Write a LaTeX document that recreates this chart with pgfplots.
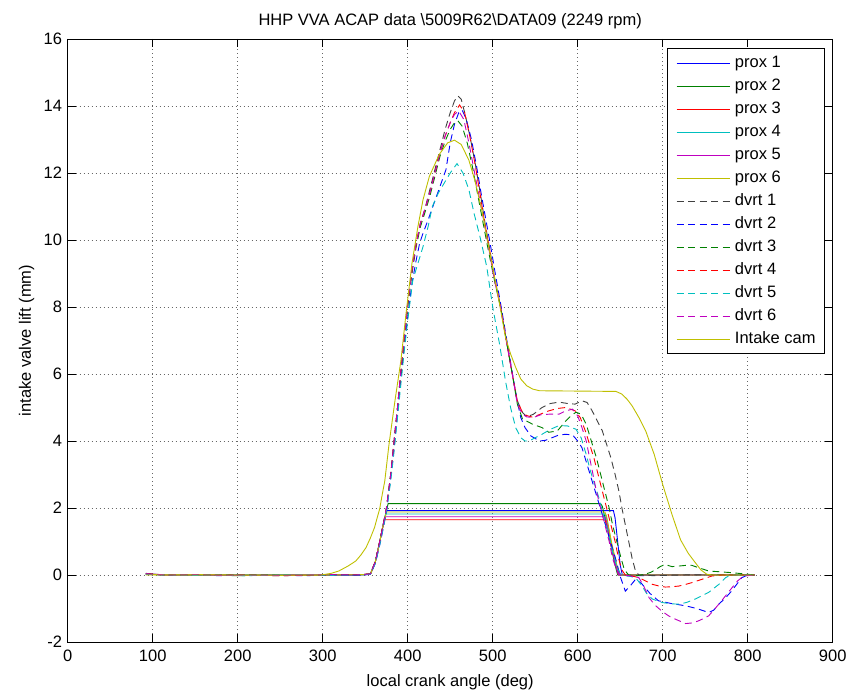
\documentclass[border=0pt]{standalone}
\usepackage{fontspec}
\setmainfont{Liberation Sans}
\usepackage{pgfplots}
\pgfplotsset{compat=1.18}
\usetikzlibrary{calc}
\definecolor{mb}{rgb}{0,0,1}
\definecolor{mg}{rgb}{0,0.5,0}
\definecolor{mr}{rgb}{1,0,0}
\definecolor{mc}{rgb}{0,0.75,0.75}
\definecolor{mm}{rgb}{0.75,0,0.75}
\definecolor{my}{rgb}{0.75,0.75,0}
\definecolor{mk}{rgb}{0.25,0.25,0.25}
\newcommand{\ff}{\fontsize{16.5}{19.8}\selectfont}
\begin{document}
\begin{tikzpicture}
\begin{axis}[name=ax, scale only axis, width=765pt, height=603pt,
  xmin=0, xmax=900, ymin=-2, ymax=16,
  xtick={0,100,...,900}, ytick={-2,0,...,16},
  /pgf/number format/assume math mode=true,
  font=\ff,
  tick label style={font=\ff},
  xticklabel style={anchor=base, yshift=-19pt, inner sep=0pt},
  yticklabel style={anchor=east, xshift=-5.5pt, inner sep=0pt},
  tick pos=both, tick align=inside, major tick length=8pt,
  every tick/.style={black, line width=0.8pt},
  axis line style={line width=0.8pt},
  grid=major,
  major grid style={black!60, line width=0.8pt, dash pattern=on 1pt off 3pt},
  xlabel={local crank angle (deg)},
  xlabel style={at={(axis description cs:0.5,-0.073)}, anchor=base, font=\ff},
  ylabel={intake valve lift (mm)},
  ylabel style={at={(axis description cs:-0.048,0.5)}, anchor=base, rotate=0, font=\ff},
  every axis plot/.append style={line width=0.9pt},
  legend image code/.code={\draw[#1] plot coordinates {(0pt,0pt) (53pt,0pt)};},
  legend cell align=left,
  legend style={at={(axis description cs:0.990,0.9846)}, anchor=north east,
    draw=black, line width=0.8pt, fill=white, font=\ff,
    inner xsep=9pt, inner ysep=6.75pt, row sep=7.5pt,
    nodes={inner sep=0pt, text height=12pt, text depth=3.5pt},
    /tikz/every odd column/.append style={column sep=5pt}},
  dvrt/.style={dash pattern=on 7pt off 4.5pt},
]
% prox 1
\addplot[color=mb] coordinates {(92,0.03) (120,0) (160,-0.01) (200,0.01) (250,-0.01) (300,0) (340,0.01) (356,0.02) (362,0.4) (368,1.1) (372,1.6) (375.5,1.92) (642,1.92) (644,1.7) (647,1.0) (650,0.3) (652.5,0) (660,-0.03) (700,0) (760,0.01) (808,0)};
\addlegendentry{prox 1}
% prox 2
\addplot[color=mg] coordinates {(92,0.02) (120,0.01) (160,0) (200,-0.02) (250,0) (300,0.01) (340,0) (356,0.02) (362,0.4) (368,1.1) (372,1.6) (377,2.13) (627,2.13) (629,2.05) (633,1.6) (638,1.0) (643,0.4) (647,0) (680,0.01) (740,0) (808,0)};
\addlegendentry{prox 2}
% prox 3
\addplot[color=mr] coordinates {(92,0.03) (120,0) (160,0.01) (200,-0.01) (250,0) (300,-0.01) (340,0) (356,0.02) (362,0.4) (368,1.1) (372,1.6) (373,1.65) (632,1.65) (634,1.5) (640,0.8) (645,0.3) (648,0) (700,0) (808,0)};
\addlegendentry{prox 3}
% prox 4
\addplot[color=mc] coordinates {(92,0.02) (120,0.01) (160,-0.01) (200,0) (250,0.01) (300,0) (340,-0.01) (356,0.02) (362,0.4) (368,1.1) (372,1.6) (374,1.82) (632,1.82) (634,1.7) (640,0.9) (645,0.3) (649,0) (700,0) (808,0)};
\addlegendentry{prox 4}
% prox 5
\addplot[color=mm] coordinates {(92,0.03) (120,0) (160,0) (200,-0.01) (250,0) (300,0.01) (340,0) (356,0.02) (362,0.4) (368,1.1) (372,1.6) (373.5,1.74) (632,1.74) (634,1.6) (640,0.8) (645,0.25) (648,0) (700,0) (808,0)};
\addlegendentry{prox 5}
% prox 6
\addplot[color=my] coordinates {(92,0.02) (120,0) (160,0.01) (200,0) (250,-0.01) (300,0) (340,0.01) (356,0.02) (362,0.4) (368,1.1) (372,1.6) (375,1.88) (632,1.88) (634,1.75) (640,0.95) (646,0.3) (650,0) (700,0) (808,0)};
\addlegendentry{prox 6}
% dvrt 1
\addplot[color=mk, dvrt] coordinates {(92,0.05) (100,0.02) (120,0) (150,-0.01) (180,0.01) (210,-0.01) (250,-0.02) (280,-0.01) (310,0) (340,0.01) (356,0.03) (362,0.4) (368,1.1) (372,1.6) (375,2.0) (380,3.0) (384,4.0) (388,5.0) (392,6.1) (396,7.1) (400,8.1) (405,9.1) (410,9.9) (415,10.5) (420,10.9) (426,11.5) (432,12.1) (438,12.7) (444,13.3) (450,13.8) (455,14.15) (459,14.3) (463,14.2) (468,13.7) (474,13.0) (480,12.2) (486,11.3) (491,10.5) (496,9.8) (502,8.9) (510,7.9) (516,7.0) (523,6.0) (529,5.2) (535,4.85) (540,4.72) (548,4.8) (558,5.0) (568,5.12) (578,5.16) (588,5.12) (597,5.1) (605,5.2) (611,5.15) (617,4.9) (623,4.6) (629,4.3) (634,3.9) (639,3.5) (644,3.0) (648.5,2.5) (652,2.0) (656,1.5) (660,1.0) (664,0.5) (668,0.12) (672,0) (690,-0.02) (720,0) (760,0.01) (808,0)};
\addlegendentry{dvrt 1}
% dvrt 2
\addplot[color=mb, dvrt] coordinates {(92,0.03) (100,0.01) (120,-0.01) (150,0) (180,-0.02) (210,0) (250,-0.01) (280,-0.02) (310,0) (340,-0.01) (356,0.02) (362,0.35) (368,1.0) (372,1.5) (375,1.9) (380,2.9) (384,3.8) (388,4.8) (392,5.9) (396,6.8) (400,7.7) (405,8.7) (410,9.4) (414,9.9) (418,10.2) (424,10.6) (431,11.1) (438,11.6) (445,12.1) (450,12.9) (455,13.45) (460,13.8) (464,13.88) (469,13.6) (475,13.0) (481,12.2) (487,11.3) (492,10.6) (497,9.9) (503,9.0) (510,8.0) (516,7.1) (522,6.2) (528,5.3) (533,4.7) (538,4.4) (545,4.15) (555,4.0) (562,4.02) (570,4.1) (578,4.18) (586,4.2) (594,4.18) (600,4.0) (605,3.8) (611,3.3) (617,2.8) (623,2.3) (629,1.8) (635,1.3) (640.6,0.82) (645,0.45) (650.5,-0.08) (656,-0.48) (661,-0.35) (668,-0.13) (675,-0.25) (685,-0.55) (695,-0.77) (710,-0.85) (727,-0.92) (740,-1.0) (754,-1.12) (760,-1.05) (766,-0.87) (774,-0.68) (781,-0.48) (787,-0.28) (793,-0.08) (800,0) (808,0)};
\addlegendentry{dvrt 2}
% dvrt 3
\addplot[color=mg, dvrt] coordinates {(92,0.04) (100,0.02) (120,0.01) (150,0) (180,-0.01) (210,0.01) (250,0) (280,-0.01) (310,0.01) (340,0) (356,0.03) (362,0.4) (368,1.1) (372,1.6) (375,2.0) (380,3.0) (384,4.0) (388,5.0) (392,6.0) (396,7.0) (400,8.0) (405,9.0) (410,9.8) (415,10.4) (420,10.8) (426,11.3) (432,11.9) (438,12.5) (444,12.95) (450,13.3) (455,13.5) (459,13.56) (464,13.4) (470,12.9) (476,12.2) (482,11.4) (488,10.6) (494,9.8) (502,8.8) (510,7.9) (516,7.0) (523,6.0) (529,5.1) (535,4.66) (541,4.58) (547,4.5) (558,4.4) (566,4.26) (576,4.3) (581,4.45) (586,4.6) (592,4.75) (598,4.86) (604,4.8) (610,4.5) (616,4.0) (622,3.5) (627,3.0) (632,2.5) (637,2.0) (641,1.5) (646,1.0) (651,0.5) (655,0.15) (660,0) (670,-0.02) (680,0.03) (686,0.08) (691,0.15) (697,0.25) (703,0.32) (707,0.28) (711,0.25) (720,0.27) (728,0.29) (734,0.29) (742,0.22) (754,0.12) (765,0.1) (781,0.07) (797,0.03) (808,0)};
\addlegendentry{dvrt 3}
% dvrt 4
\addplot[color=mr, dvrt] coordinates {(92,0.04) (110,0.01) (150,-0.01) (200,0) (250,-0.02) (300,0) (340,0.01) (356,0.03) (362,0.4) (368,1.1) (372,1.6) (375,2.0) (380,3.0) (384,4.0) (388,5.0) (392,6.1) (396,7.1) (400,8.1) (405,9.1) (410,9.9) (415,10.5) (420,10.9) (426,11.4) (432,12.0) (438,12.6) (444,13.1) (450,13.5) (455,13.8) (461,14.03) (467,13.8) (473,13.1) (479,12.3) (485,11.4) (490,10.6) (495,9.9) (502,8.9) (510,7.9) (516,7.0) (523,6.0) (529,5.2) (535,4.85) (540,4.76) (547,4.71) (556,4.8) (566,4.9) (576,4.97) (586,5.0) (597,4.9) (603,4.7) (609,4.3) (614,3.9) (619,3.5) (624,3.0) (629,2.5) (634,2.0) (639,1.5) (644,1.0) (648,0.5) (652,0.15) (656,0) (664,-0.03) (672,-0.08) (680,-0.18) (688,-0.28) (696,-0.33) (703,-0.36) (711,-0.35) (719,-0.33) (727,-0.28) (734,-0.23) (746,-0.13) (758,-0.03) (770,0) (790,0) (808,0)};
\addlegendentry{dvrt 4}
% dvrt 5
\addplot[color=mc, dvrt] coordinates {(92,0.03) (100,0.01) (120,0) (150,-0.01) (180,0) (210,-0.02) (250,0) (280,0.01) (310,-0.01) (340,0) (356,0.02) (362,0.35) (368,1.0) (372,1.5) (375,1.9) (380,2.8) (384,3.7) (388,4.7) (392,5.7) (396,6.7) (400,7.6) (406,8.8) (412,9.3) (418,9.8) (424,10.4) (429,11.0) (436,11.4) (443,11.7) (450,12.0) (458,12.28) (465,12.0) (472,11.5) (478,10.8) (485,10.1) (493,9.2) (500,8.0) (508,6.9) (515,5.8) (521,5.0) (527,4.4) (533,4.1) (538,4.0) (543,4.0) (550,4.1) (558,4.2) (568,4.35) (578,4.46) (588,4.45) (598,4.35) (604,4.1) (610,3.6) (615,3.1) (620,2.7) (625,2.3) (630,1.8) (636.7,1.2) (641,0.7) (646.5,0.2) (651,0) (660,-0.03) (668,-0.08) (675,-0.3) (681,-0.55) (688,-0.72) (699,-0.82) (710,-0.86) (719,-0.87) (728,-0.82) (738,-0.72) (746,-0.62) (754,-0.52) (760,-0.4) (766,-0.28) (774,-0.08) (780,0) (808,0)};
\addlegendentry{dvrt 5}
% dvrt 6
\addplot[color=mm, dvrt] coordinates {(92,0.04) (100,0.02) (120,0) (150,0.01) (180,-0.01) (210,0) (250,-0.01) (280,0) (310,0.01) (340,0) (356,0.03) (362,0.4) (368,1.1) (372,1.6) (375,2.0) (380,3.0) (384,4.0) (388,5.0) (392,6.1) (396,7.1) (400,8.1) (405,9.1) (410,9.9) (415,10.5) (420,10.9) (426,11.4) (432,12.0) (438,12.6) (444,13.1) (450,13.5) (455,13.75) (460,13.85) (466,13.6) (472,12.9) (478,12.1) (484,11.3) (490,10.5) (495,9.8) (502,8.8) (510,7.9) (516,7.0) (523,6.0) (529,5.1) (535,4.8) (540,4.72) (548,4.7) (556,4.78) (566,4.8) (578,4.8) (586,4.9) (594,4.95) (600,4.75) (605,4.4) (610,4.0) (614,3.5) (618,3.0) (622,2.5) (627,2.0) (632,1.5) (637,1.0) (641,0.5) (645,0.2) (650,0) (660,-0.02) (672,-0.08) (678,-0.35) (684,-0.68) (691,-0.9) (699,-1.08) (707,-1.22) (715,-1.32) (727,-1.45) (735,-1.43) (742,-1.37) (748,-1.3) (754,-1.22) (760,-1.05) (766,-0.87) (774,-0.62) (781.5,-0.38) (788,-0.18) (795,-0.03) (808,0)};
\addlegendentry{dvrt 6}
% Intake cam
\addplot[color=my] coordinates {(92,0) (150,0) (200,0) (250,0) (298,0) (310,0.05) (319,0.12) (330,0.27) (339,0.42) (345,0.6) (351,0.82) (356,1.1) (361,1.42) (364,1.7) (367,1.97) (370,2.4) (373,2.8) (378,3.9) (385,5.2) (392,6.4) (398,7.8) (405,9.3) (412,10.4) (418,11.2) (425.5,11.9) (437,12.55) (447,12.9) (455,12.98) (463,12.85) (472,12.38) (479,11.78) (488,10.8) (496,9.7) (502,8.9) (508,8.1) (515,7.1) (521,6.6) (527,6.2) (533,5.85) (540,5.65) (547,5.55) (555,5.5) (645,5.48) (652,5.4) (658,5.25) (664,5.05) (672,4.7) (680,4.3) (690,3.6) (700,2.7) (711,1.8) (721,1.05) (730,0.65) (738,0.38) (745,0.15) (752,0.02) (760,0) (808,0)};
\addlegendentry{Intake cam}
\end{axis}
\node[anchor=base, font=\ff, inner sep=0pt] at ($(ax.north)+(0,13pt)$) {HHP VVA ACAP data \textbackslash 5009R62\textbackslash DATA09 (2249 rpm)};
\path (ax.south west) ++(-67.7pt,-47pt) rectangle ($(ax.north east)+(23.3pt,39pt)$);
\end{tikzpicture}
\end{document}
